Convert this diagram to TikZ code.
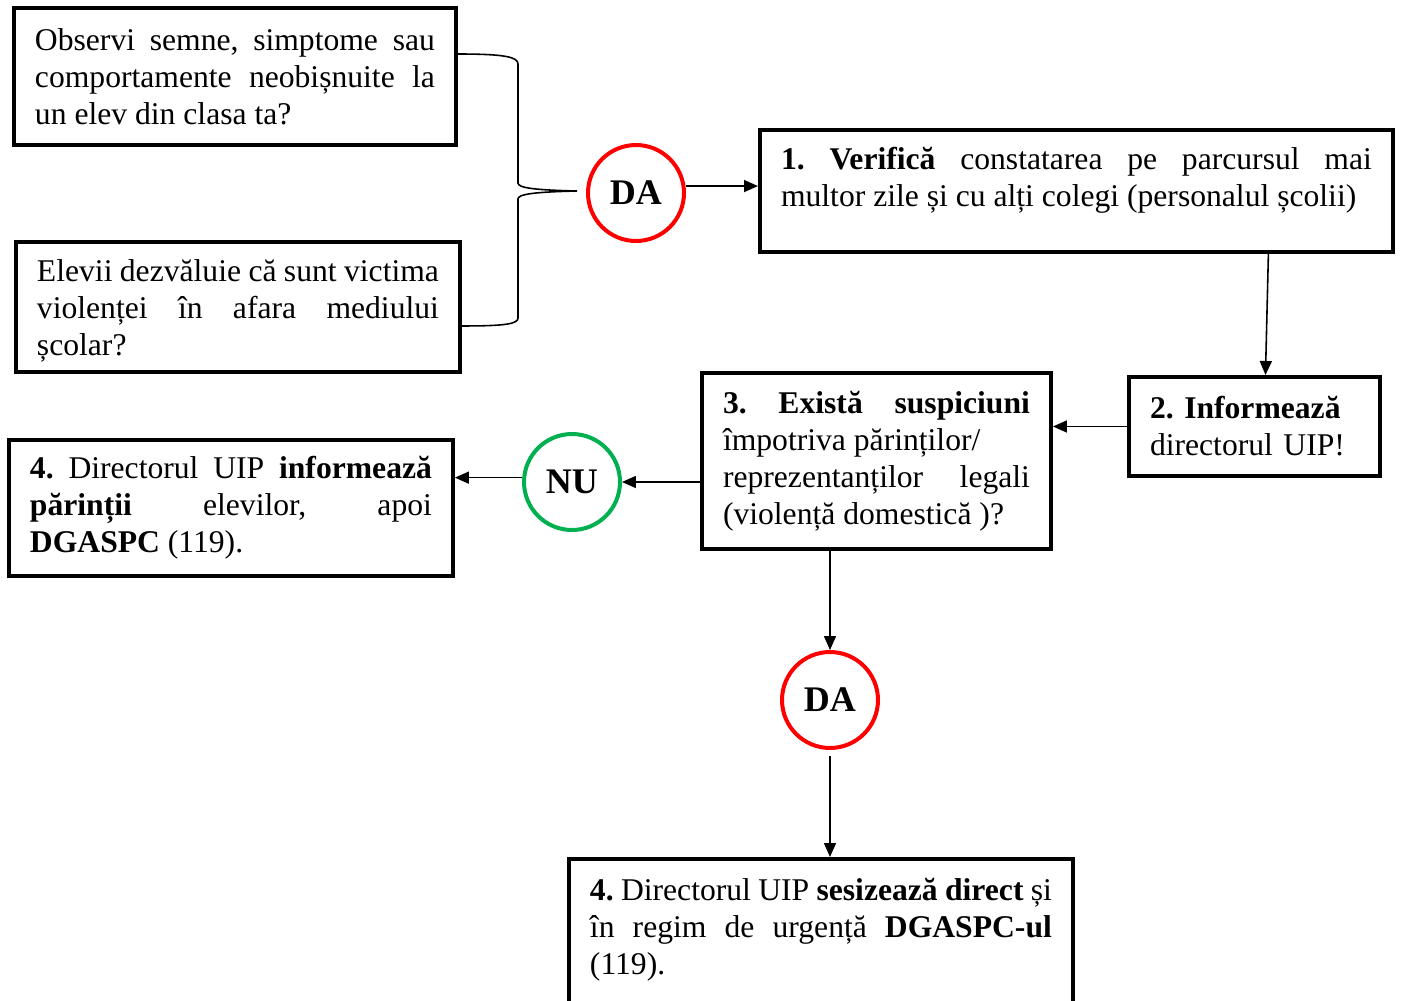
\documentclass[tikz,border=0pt]{standalone}
\usepackage{fontspec}
\setmainfont{Liberation Serif}
\usetikzlibrary{arrows.meta,positioning,calc}
\definecolor{dared}{RGB}{255,0,0}
\definecolor{nugreen}{RGB}{0,176,80}
\hyphenpenalty=10000
\exhyphenpenalty=10000
\tolerance=9000
\frenchspacing

\begin{document}
\begin{tikzpicture}[
    x=0.02cm, y=-0.02cm,
    box/.style={draw, line width=0.08cm, align=justify, anchor=north west,
        inner xsep=0.42cm, font=\fontsize{18}{21}\selectfont},
    answer/.style={circle, draw, line width=0.08cm, minimum size=1.92cm,
        inner sep=0pt, font=\fontsize{20.5}{24}\selectfont\bfseries},
    link/.style={line width=0.9pt},
    >={Triangle[length=0.28cm, width=0.24cm]}
]
\useasboundingbox (0,0) rectangle (1401,1001);
\clip (0,0) rectangle (1401,1001);

% Questions
\node[box, text width=8cm, minimum height=2.74cm] (semne) at (12,6)
    {Observi semne, simptome sau\linebreak comportamente neobișnuite la\linebreak un elev din clasa ta?};
\node[box, text width=8.04cm, minimum height=2.6cm] (elevi) at (14,240)
    {\rule{0pt}{17pt}Elevii dezvăluie că sunt victima\linebreak violenței în afara mediului\linebreak școlar?};

% Steps
\node[box, text width=11.82cm, minimum height=2.44cm] (verif) at (758,128)
    {\textbf{1. Verifică} constatarea pe parcursul mai\linebreak multor zile și cu alți colegi (personalul școlii)\rule[-0.58cm]{0pt}{0pt}};
\node[box, text width=4.18cm, minimum height=1.98cm, align=left] (info) at (1127,375)
    {\textbf{2. Informează}\\ directorul UIP!};
\node[box, text width=6.14cm, minimum height=3.52cm] (exist) at (700,371)
    {\textbf{3. Există suspiciuni}\linebreak împotriva părinților/\\ reprezentanților legali\linebreak (violență domestică )?};
\node[box, text width=8.04cm, minimum height=2.72cm] (parinti) at (7,438)
    {\textbf{4.} Directorul UIP \textbf{informează}\linebreak \textbf{părinții} elevilor, apoi\linebreak \textbf{DGASPC} (119).};
\node[box, text width=9.24cm, inner ysep=0.38cm] (direct) at (567,857)
    {\textbf{4.} Directorul UIP \textbf{sesizează direct} și\linebreak în regim de urgență \textbf{DGASPC-ul}\linebreak (119).\rule[-2cm]{0pt}{0pt}};

% Answers
\node[answer, dared] (da1) at (636,193) {\color{black}DA};
\node[answer, nugreen] (nu) at (572,482) {\color{black}NU};
\node[answer, dared] (da2) at (830,700) {\color{black}DA};

% Brace
\coordinate (tip) at ($(da1.west)+(-9,-2)$);
\draw[link] ($(semne.north east)+(0,48)$) .. controls (505,54) and (518,57) .. (518,64)
    -- (518,183) .. controls (518,188) and (535,190) .. (tip)
    .. controls (535,192) and (518,194) .. (518,199)
    -- (518,318) .. controls (518,324) and (505,326) .. ($(elevi.south east)+(0,-48)$);

% Arrows
\draw[link, ->] (da1.8) -- (da1.8 -| verif.west);
\draw[link, ->] ([xshift=3.84cm]verif.south) -- ([xshift=0.22cm]info.north);
\draw[link, ->] (info.west) -- (info.west -| exist.east);
\draw[link, ->] (nu.east -| exist.west) -- (nu.east);
\draw[link, ->] (nu.175) -- (nu.175 -| parinti.east);
\draw[link, ->] (exist.south -| da2.north) -- (da2.north);
\draw[link, ->] ([yshift=-0.12cm]da2.south) -- (da2.south |- direct.north);

\end{tikzpicture}
\end{document}
